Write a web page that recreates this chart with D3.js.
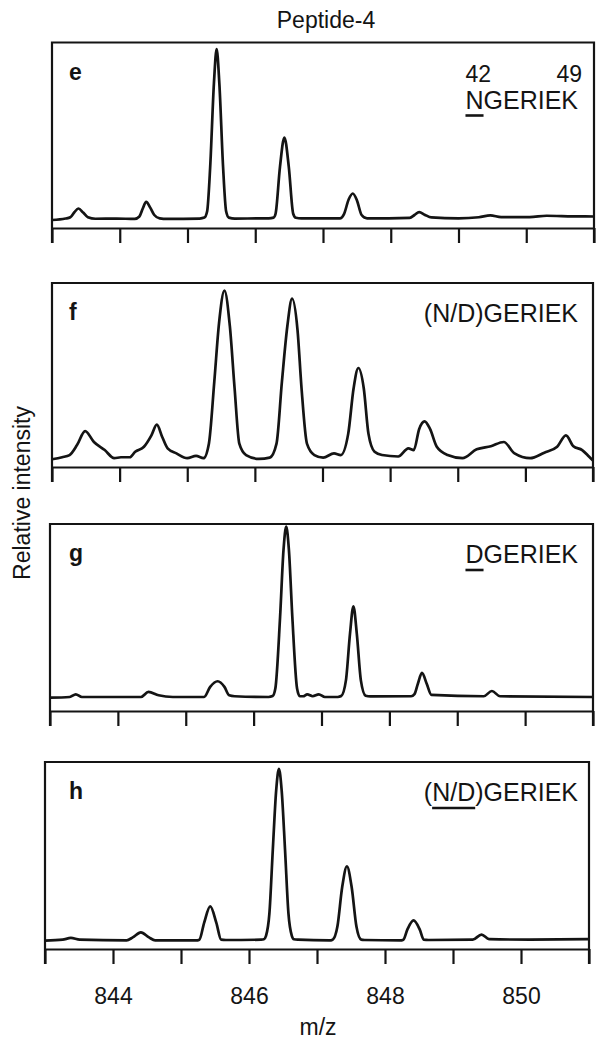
<!DOCTYPE html>
<html>
<head>
<meta charset="utf-8">
<script src="https://cdn.jsdelivr.net/npm/d3@7"></script>
<style>
  html, body { margin: 0; padding: 0; background: #fff; }
  svg { display: block; }
  text { font-family: "Liberation Sans", Arial, Helvetica, sans-serif; fill: #141414; }
</style>
</head>
<body>
<svg id="chart" width="598" height="1046"></svg>
<script>
// ---- data -------------------------------------------------------------
const chartTitle = "Peptide-4";
const panelIds = ["e", "f", "g", "h"];
const sequenceLabels = ["NGERIEK", "(N/D)GERIEK", "DGERIEK", "(N/D)GERIEK"];
// underlined residues: [first char, last char + 1]
const underlinedChars = [[0, 1], null, [0, 1], [1, 4]];
const residueNumbers = ["42", "49"];
const mzTicks = [843, 844, 845, 846, 847, 848, 849, 850, 851];
const mzLabelTicks = [844, 846, 848, 850];
const xTitle = "m/z";
const yTitle = "Relative intensity";

// spectra: [m/z, relative intensity]
const specE = [
  [843.00, 4.3], [843.20, 5.1], [843.27, 5.8], [843.33, 8.5], [843.39, 10.5], [843.46, 8.3], [843.53, 5.8], [843.64, 5.0],
  [843.95, 5.1], [844.22, 4.9], [844.29, 6.2], [844.34, 10.5], [844.39, 14.1], [844.45, 11.0], [844.51, 7.0], [844.59, 5.2], [844.70, 4.9],
  [845.18, 5.1], [845.25, 5.6], [845.29, 9], [845.335, 33], [845.39, 78], [845.43, 96.4], [845.47, 78], [845.525, 33], [845.57, 9], [845.61, 5.6], [845.70, 5.1],
  [846.20, 5.2], [846.27, 5.6], [846.30, 7.7], [846.365, 33], [846.43, 48.8], [846.495, 33], [846.56, 7.7], [846.60, 5.5], [846.68, 5.2],
  [847.25, 5.2], [847.31, 7.5], [847.38, 15.5], [847.44, 18.6], [847.50, 15], [847.57, 7.0], [847.65, 5.2],
  [848.28, 5.5], [848.35, 7.0], [848.42, 8.6], [848.50, 7.2], [848.60, 5.7],
  [849.00, 5.2], [849.30, 5.8], [849.47, 6.8], [849.63, 5.9], [850.05, 5.9], [850.30, 6.6], [850.68, 6.3], [851.00, 6.2]
];
const specF = [
  [843.00, 4.2], [843.15, 5.3], [843.26, 6.5], [843.37, 11.9], [843.49, 19.5], [843.62, 13.6], [843.78, 9.2], [843.92, 4.8],
  [844.02, 5.3], [844.15, 5.3], [844.23, 8.3], [844.36, 11], [844.47, 17.2], [844.55, 23], [844.63, 16.3], [844.71, 10.1], [844.84, 7.4],
  [845.00, 4.8], [845.13, 6.0], [845.24, 4.8], [845.32, 12.7], [845.40, 46.4], [845.47, 78.2], [845.55, 95.9], [845.63, 76.5], [845.70, 42.8], [845.77, 12.7], [845.87, 6.5],
  [846.06, 4.4], [846.22, 5.1], [846.32, 12.7], [846.40, 46.4], [846.48, 76.5], [846.55, 91.5], [846.63, 74.7], [846.69, 42.8], [846.77, 12.7], [846.88, 6.5],
  [847.01, 5.1], [847.17, 7.4], [847.27, 6.5], [847.38, 18], [847.46, 42.8], [847.53, 53.8], [847.61, 42.8], [847.68, 18], [847.77, 8.3], [847.88, 6.5],
  [848.12, 5.7], [848.27, 10.1], [848.35, 9.2], [848.43, 20.7], [848.51, 24.8], [848.59, 20.7], [848.69, 11], [848.85, 6.5],
  [849.07, 4.8], [849.28, 9.6], [849.49, 11.3], [849.68, 13.6], [849.84, 7.4], [850.07, 4.8], [850.28, 7.8], [850.47, 11],
  [850.60, 17.2], [850.71, 11.3], [850.84, 9.2], [850.94, 5.7], [851.00, 3.5]
];
const specG = [
  [843.00, 7.1], [843.29, 7.5], [843.38, 8.9], [843.47, 7.5], [844.34, 7.5], [844.45, 10.2], [844.60, 8.4], [844.81, 7.5],
  [845.27, 7.5], [845.36, 12.9], [845.47, 15.9], [845.57, 12.9], [845.64, 8.4], [845.72, 7.9],
  [846.22, 7.5], [846.28, 8.0], [846.32, 12], [846.39, 50.4], [846.44, 86], [846.48, 98.6], [846.52, 86], [846.57, 50.4], [846.64, 12], [846.68, 7.9],
  [846.73, 7.9], [846.79, 8.9], [846.87, 7.9], [846.96, 8.9], [847.05, 7.5],
  [847.24, 7.5], [847.29, 8.0], [847.36, 16.4], [847.42, 41.4], [847.47, 56], [847.52, 41.4], [847.58, 16.4], [847.65, 8.2], [847.72, 7.8],
  [848.32, 7.9], [848.37, 9.0], [848.42, 14.6], [848.48, 20.4], [848.55, 14.6], [848.62, 8.6],
  [849.39, 7.9], [849.51, 10.7], [849.63, 7.9], [851.00, 7.5]
];
const specH = [
  [843.00, 4.5], [843.26, 5.0], [843.38, 5.9], [843.51, 5.0], [844.20, 4.6], [844.29, 6.2], [844.41, 8.9], [844.53, 6.2], [844.62, 4.6],
  [845.22, 4.6], [845.27, 5.0], [845.34, 14], [845.43, 22.8], [845.52, 14], [845.59, 5.0], [845.66, 4.8],
  [846.18, 5.0], [846.22, 5.2], [846.25, 7], [846.30, 19], [846.35, 53], [846.40, 85], [846.44, 96.3], [846.48, 85], [846.53, 53], [846.58, 19], [846.63, 7], [846.66, 5.2], [846.72, 5.0],
  [847.18, 4.6], [847.23, 5.0], [847.30, 12], [847.37, 33], [847.44, 44.2], [847.51, 33], [847.58, 12], [847.65, 5.0], [847.70, 4.8],
  [848.22, 4.6], [848.27, 5.0], [848.33, 10.5], [848.42, 15.3], [848.51, 10.5], [848.57, 5.0], [848.64, 4.8],
  [849.29, 5.0], [849.42, 7.7], [849.53, 5.3], [850.13, 5.0], [851.00, 5.3]
];
const spectra = [specE, specF, specG, specH];

// ---- layout -------------------------------------------------------------
const frames = [
  { left: 52, right: 594, top: 42.5, bottom: 228 },
  { left: 52, right: 593, top: 283, bottom: 467 },
  { left: 50, right: 593, top: 524, bottom: 711 },
  { left: 45, right: 589, top: 762, bottom: 949 }
];
const tickLen = 15;
const ink = "#141414";
const fontStack = '"Liberation Sans", Arial, Helvetica, sans-serif';

const svg = d3.select("#chart");

svg.append("text")
  .attr("x", 326).attr("y", 28)
  .attr("text-anchor", "middle")
  .style("font-size", "23px")
  .text(chartTitle);

frames.forEach((fr, i) => {
  const x = d3.scaleLinear().domain([843, 851]).range([fr.left, fr.right]);
  const y = d3.scaleLinear().domain([0, 100]).range([fr.bottom, fr.top]);
  const g = svg.append("g");

  // frame: top and both sides, sides running down to the tick ends
  g.append("path")
    .attr("d", `M${fr.left},${fr.bottom + tickLen}V${fr.top}H${fr.right}V${fr.bottom + tickLen}`)
    .attr("fill", "none").attr("stroke", ink).attr("stroke-width", 2.2);

  const axis = d3.axisBottom(x)
    .tickValues(mzTicks)
    .tickSize(tickLen)
    .tickSizeOuter(0)
    .tickPadding(24)
    .tickFormat(d => (i === 3 && mzLabelTicks.includes(d)) ? String(d) : "");

  const ax = g.append("g")
    .attr("transform", `translate(0,${fr.bottom})`)
    .call(axis);
  ax.select(".domain").attr("stroke", ink).attr("stroke-width", 2.2);
  ax.selectAll(".tick line").attr("stroke", ink).attr("stroke-width", 2.2);
  ax.selectAll(".tick text")
    .attr("fill", ink)
    .style("font-size", "23px")
    .style("font-family", fontStack);

  // spectrum trace
  const line = d3.line()
    .x(d => x(d[0]))
    .y(d => y(d[1]))
    .curve(d3.curveMonotoneX);
  g.append("path")
    .datum(spectra[i])
    .attr("d", line)
    .attr("fill", "none")
    .attr("stroke", ink)
    .attr("stroke-width", 2.7)
    .attr("stroke-linejoin", "round");

  // panel letter
  g.append("text")
    .attr("x", 69).attr("y", fr.top + 37)
    .style("font-size", "23px").style("font-weight", "bold")
    .text(panelIds[i]);

  // sequence label
  const seqY = i === 0 ? fr.top + 66 : fr.top + 39;
  const seq = g.append("text")
    .attr("x", 578).attr("y", seqY)
    .attr("text-anchor", "end")
    .style("font-size", "25px")
    .text(sequenceLabels[i]);

  const seqNode = seq.node();
  const u = underlinedChars[i];
  if (u) {
    const x0 = seqNode.getStartPositionOfChar(u[0]).x;
    const x1 = seqNode.getEndPositionOfChar(u[1] - 1).x;
    g.append("line")
      .attr("x1", x0).attr("x2", x1)
      .attr("y1", seqY + 7).attr("y2", seqY + 7)
      .attr("stroke", ink).attr("stroke-width", 2.6);
  }

  if (i === 0) {
    const nx = seqNode.getStartPositionOfChar(0).x;
    g.append("text")
      .attr("x", nx).attr("y", fr.top + 39)
      .style("font-size", "23px")
      .text(residueNumbers[0]);
    g.append("text")
      .attr("x", 582).attr("y", fr.top + 39)
      .attr("text-anchor", "end")
      .style("font-size", "23px")
      .text(residueNumbers[1]);
  }
});

svg.append("text")
  .attr("x", 318).attr("y", 1035)
  .attr("text-anchor", "middle")
  .style("font-size", "23px")
  .text(xTitle);

svg.append("text")
  .attr("transform", "translate(30,493) rotate(-90)")
  .attr("text-anchor", "middle")
  .style("font-size", "23px")
  .text(yTitle);
</script>
</body>
</html>
